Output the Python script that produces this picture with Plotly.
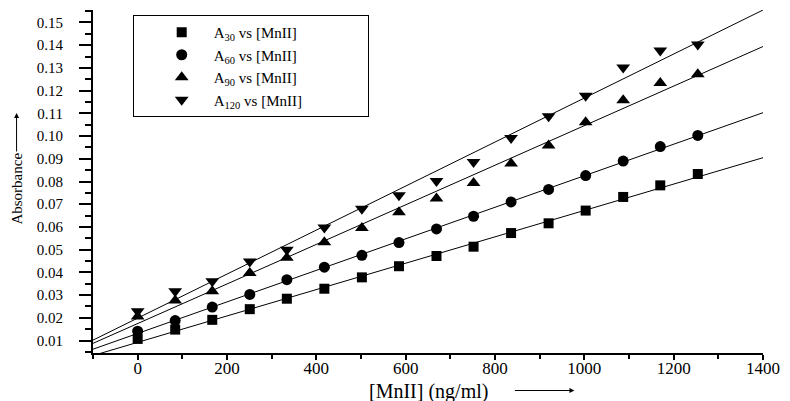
import numpy as np
import plotly.graph_objects as go

# ---- data ----
conc = [0, 84, 167, 251, 334, 418, 502, 585, 669, 752, 836, 920, 1003, 1087, 1170, 1254]
a30 = [0.0107, 0.0148, 0.0191, 0.0238, 0.0284, 0.0328, 0.0378, 0.0427, 0.0472, 0.0513,
       0.0573, 0.0616, 0.0672, 0.0732, 0.0783, 0.0833]
a60 = [0.0141, 0.0188, 0.0247, 0.0303, 0.0368, 0.0423, 0.0475, 0.0531, 0.0591, 0.0647,
       0.0710, 0.0765, 0.0826, 0.0890, 0.0954, 0.1003]
a90 = [0.0206, 0.0276, 0.0317, 0.0397, 0.0464, 0.0533, 0.0595, 0.0665, 0.0725, 0.0793,
       0.0879, 0.0959, 0.1061, 0.1158, 0.1234, 0.1272]
a120 = [0.0229, 0.0317, 0.0361, 0.0448, 0.0500, 0.0597, 0.0680, 0.0739, 0.0802, 0.0886,
        0.0992, 0.1087, 0.1177, 0.1302, 0.1377, 0.1403]

series_names = ["A<sub>30</sub> vs [MnII]", "A<sub>60</sub> vs [MnII]",
                "A<sub>90</sub> vs [MnII]", "A<sub>120</sub> vs [MnII]"]
series_vals = [a30, a60, a90, a120]
symbols = ["square", "circle", "triangle-up", "triangle-down"]
sizes = [10, 11, 12, 12]

x_range = [-100, 1400]
y_range = [0.0045, 0.1555]

FONT = "Liberation Serif"
PAD = "&nbsp;" * 16  # right padding inside the legend box

fig = go.Figure()
for name, vals, sym, sz in zip(series_names, series_vals, symbols, sizes):
    slope, intercept = np.polyfit(conc, vals, 1)
    fx = np.array(x_range, dtype=float)
    fig.add_trace(go.Scatter(x=fx, y=slope * fx + intercept, mode="lines",
                             line=dict(color="black", width=1), showlegend=False,
                             hoverinfo="skip"))
for name, vals, sym, sz in zip(series_names, series_vals, symbols, sizes):
    fig.add_trace(go.Scatter(x=conc, y=vals, mode="markers", name=name + PAD,
                             marker=dict(symbol=sym, size=sz, color="black",
                                         line=dict(width=0))))

fig.update_layout(
    width=790, height=401,
    margin=dict(l=93, r=22, t=10, b=48),
    paper_bgcolor="white", plot_bgcolor="white",
    font=dict(family=FONT, color="black"),
    showlegend=True,
    legend=dict(x=(133 - 93) / 675, y=(353 - 15) / 343, xanchor="left", yanchor="top",
                bordercolor="black", borderwidth=1, bgcolor="white",
                font=dict(family=FONT, size=15, color="black"),
                indentation=16, itemwidth=54, tracegroupgap=0),
)
fig.update_xaxes(range=x_range, showline=True, linecolor="black", linewidth=2,
                 showgrid=False, zeroline=False, ticks="outside", ticklen=5, tickwidth=2,
                 tickcolor="black", tick0=0, dtick=200, ticklabelstandoff=-6,
                 tickfont=dict(family=FONT, size=17, color="black"),
                 minor=dict(dtick=100, ticks="outside", ticklen=4, tickwidth=2,
                            tickcolor="black", showgrid=False))
fig.update_yaxes(range=y_range, showline=True, linecolor="black", linewidth=2,
                 showgrid=False, zeroline=False, ticks="outside", ticklen=12, tickwidth=2,
                 tickcolor="black", tick0=0, dtick=0.01, tickformat=".2f",
                 ticklabelstandoff=13,
                 tickfont=dict(family=FONT, size=15, color="black"),
                 minor=dict(dtick=0.005, ticks="outside", ticklen=6, tickwidth=2,
                            tickcolor="black", showgrid=False))

# axis titles with arrows
fig.add_annotation(xref="paper", yref="paper", x=(431 - 93) / 675, y=(353 - 391) / 343,
                   xanchor="center", yanchor="middle", text="[MnII] (ng/ml)",
                   showarrow=False, font=dict(family=FONT, size=20, color="black"))
fig.add_annotation(xref="paper", yref="paper", x=(578 - 93) / 675, y=(353 - 390.5) / 343,
                   ax=-61, ay=0, text="", showarrow=True, arrowhead=2, arrowsize=1,
                   arrowwidth=1, arrowcolor="black")
fig.add_annotation(xref="paper", yref="paper", x=(16 - 93) / 675, y=(353 - 189) / 343,
                   xanchor="center", yanchor="middle", text="Absorbance", textangle=-90,
                   showarrow=False, font=dict(family=FONT, size=15, color="black"))
fig.add_annotation(xref="paper", yref="paper", x=(16 - 93) / 675, y=(353 - 113) / 343,
                   ax=0, ay=40, text="", showarrow=True, arrowhead=2, arrowsize=1,
                   arrowwidth=1, arrowcolor="black")

fig.write_html("out.html")
